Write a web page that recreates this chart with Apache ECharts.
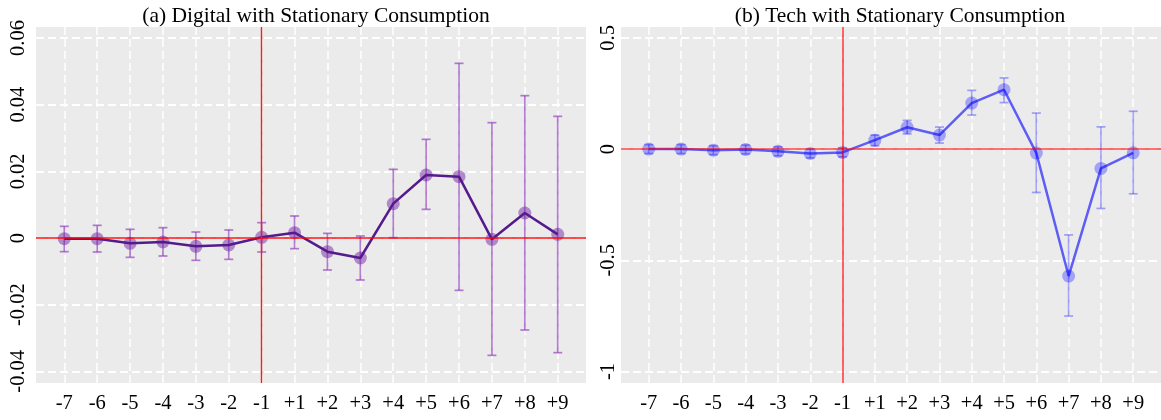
<!DOCTYPE html>
<html>
<head>
<meta charset="utf-8">
<script src="https://cdn.jsdelivr.net/npm/echarts@6/dist/echarts.min.js"></script>
<style>
  html, body { margin: 0; padding: 0; background: #fff; }
  #chart { width: 1161px; height: 420px; }
</style>
</head>
<body>
<div id="chart"></div>
<script>
// event-time categories
const cats = ['-7', '-6', '-5', '-4', '-3', '-2', '-1', '+1', '+2', '+3', '+4', '+5', '+6', '+7', '+8', '+9'];

// (a) Digital with Stationary Consumption
const digitalCoef = [-0.0002, -0.0002, -0.0016, -0.0012, -0.0025, -0.0021, 0.0002, 0.0016, -0.0041, -0.0060, 0.0103, 0.0189, 0.0184, -0.0004, 0.0075, 0.0011];
const digitalHi = [0.0035, 0.0038, 0.0026, 0.0031, 0.0018, 0.0024, 0.0046, 0.0066, 0.0014, 0.0006, 0.0206, 0.0296, 0.0524, 0.0346, 0.0427, 0.0365];
const digitalLo = [-0.0041, -0.0042, -0.0058, -0.0054, -0.0067, -0.0064, -0.0042, -0.0032, -0.0096, -0.0126, 0.0001, 0.0086, -0.0157, -0.0352, -0.0276, -0.0344];
const digitalTicks = [-0.04, -0.02, 0, 0.02, 0.04, 0.06];

// (b) Tech with Stationary Consumption
const techCoef = [0, 0, -0.005, -0.002, -0.01, -0.02, -0.015, 0.04, 0.098, 0.063, 0.207, 0.267, -0.018, -0.571, -0.087, -0.017];
const techHi = [0.02, 0.02, 0.015, 0.018, 0.01, 0.0, 0.005, 0.063, 0.129, 0.099, 0.264, 0.32, 0.162, -0.386, 0.1, 0.17];
const techLo = [-0.02, -0.02, -0.025, -0.022, -0.03, -0.04, -0.035, 0.015, 0.068, 0.027, 0.153, 0.209, -0.195, -0.751, -0.267, -0.201];
const techTicks = [-1, -0.5, 0, 0.5];

const eventIdx = cats.map((c, i) => i);
const font = 'Liberation Serif';

function xAxisFor(gridIndex) {
    return {
        type: 'value',
        gridIndex: gridIndex,
        min: -0.86,
        max: 15.86,
        axisLine: { show: false },
        axisTick: { show: false, customValues: eventIdx },
        axisLabel: {
            customValues: eventIdx,
            formatter: v => cats[Math.round(v)],
            fontFamily: font,
            fontSize: 20.5,
            color: '#000',
            margin: 10
        },
        splitLine: {
            show: true,
            lineStyle: { color: '#fff', width: 1.5, type: [8, 4] }
        }
    };
}

function yAxisFor(gridIndex, min, max, ticks, margin) {
    return {
        type: 'value',
        gridIndex: gridIndex,
        min: min,
        max: max,
        axisLine: { show: false },
        axisTick: { show: false, customValues: ticks },
        axisLabel: {
            customValues: ticks,
            formatter: v => String(v),
            rotate: 90,
            fontFamily: font,
            fontSize: 20.5,
            color: '#000',
            margin: margin
        },
        splitLine: {
            show: true,
            lineStyle: { color: '#fff', width: 1.8, type: [8, 4] }
        }
    };
}

function panelSeries(idx, coef, lo, hi, lineColor, pointColor, barColor, hLine, vLine) {
    return [
        {
            type: 'line',
            xAxisIndex: idx,
            yAxisIndex: idx,
            data: [],
            z: 1,
            markLine: {
                silent: true,
                symbol: 'none',
                label: { show: false },
                lineStyle: hLine,
                data: [{ yAxis: 0 }]
            }
        },
        {
            type: 'line',
            xAxisIndex: idx,
            yAxisIndex: idx,
            data: [],
            z: 1,
            markLine: {
                silent: true,
                symbol: 'none',
                label: { show: false },
                lineStyle: vLine,
                data: [{ xAxis: 6 }]
            }
        },
        {
            type: 'custom',
            xAxisIndex: idx,
            yAxisIndex: idx,
            z: 2,
            data: eventIdx.map(i => [i, lo[i], hi[i]]),
            renderItem: function (params, api) {
                const top = api.coord([api.value(0), api.value(2)]);
                const bot = api.coord([api.value(0), api.value(1)]);
                const cw = 4.5;
                const style = { stroke: barColor, lineWidth: 1.7 };
                return {
                    type: 'group',
                    children: [
                        { type: 'line', shape: { x1: top[0], y1: top[1], x2: bot[0], y2: bot[1] }, style: style },
                        { type: 'line', shape: { x1: top[0] - cw, y1: top[1], x2: top[0] + cw, y2: top[1] }, style: style },
                        { type: 'line', shape: { x1: bot[0] - cw, y1: bot[1], x2: bot[0] + cw, y2: bot[1] }, style: style }
                    ]
                };
            }
        },
        {
            type: 'scatter',
            xAxisIndex: idx,
            yAxisIndex: idx,
            z: 3,
            symbolSize: 13,
            itemStyle: { color: pointColor },
            data: eventIdx.map(i => [i, coef[i]])
        },
        {
            type: 'line',
            xAxisIndex: idx,
            yAxisIndex: idx,
            z: 4,
            symbol: 'none',
            lineStyle: { color: lineColor, width: 2.5 },
            data: eventIdx.map(i => [i, coef[i]])
        }
    ];
}

const chart = echarts.init(document.getElementById('chart'), null, { renderer: 'canvas' });

chart.setOption({
    animation: false,
    backgroundColor: '#fff',
    title: [
        {
            text: '(a) Digital with Stationary Consumption',
            left: 311, top: 0, textAlign: 'center',
            textStyle: { fontFamily: font, fontSize: 21.5, fontWeight: 'normal', color: '#000' }
        },
        {
            text: '(b) Tech with Stationary Consumption',
            left: 895, top: 0, textAlign: 'center',
            textStyle: { fontFamily: font, fontSize: 21.5, fontWeight: 'normal', color: '#000' }
        }
    ],
    grid: [
        { left: 36, top: 27, width: 550, height: 356, show: true, backgroundColor: '#EBEBEB', borderWidth: 0 },
        { left: 621, top: 27, width: 550, height: 356, show: true, backgroundColor: '#EBEBEB', borderWidth: 0 }
    ],
    xAxis: [xAxisFor(0), xAxisFor(1)],
    yAxis: [
        yAxisFor(0, -0.0435, 0.0633, digitalTicks, 7),
        yAxisFor(1, -1.052, 0.549, techTicks, 2)
    ],
    series: [].concat(
        panelSeries(0, digitalCoef, digitalLo, digitalHi,
            '#551A8B', 'rgba(110,30,160,0.6)', 'rgba(140,50,185,0.62)',
            { color: 'rgba(255,0,0,0.7)', width: 2, type: 'solid' },
            { color: '#ff1a1a', width: 1.4, type: 'solid' }),
        panelSeries(1, techCoef, techLo, techHi,
            'rgba(0,0,255,0.6)', 'rgba(0,0,255,0.38)', 'rgba(0,0,255,0.33)',
            { color: 'rgba(255,0,0,0.75)', width: 1.6, type: 'solid' },
            { color: 'rgba(255,0,0,0.75)', width: 1.6, type: 'solid' })
    )
});
</script>
</body>
</html>
